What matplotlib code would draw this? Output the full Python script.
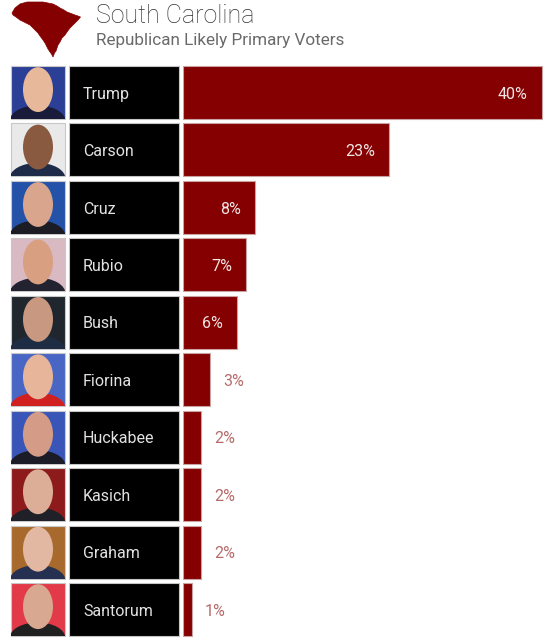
import matplotlib
matplotlib.use("Agg")
import matplotlib.pyplot as plt
from matplotlib.patches import Rectangle, Ellipse, Polygon

plt.rcParams['font.family'] = ['Roboto', 'DejaVu Sans']

# data
candidates = ["Trump", "Carson", "Cruz", "Rubio", "Bush",
              "Fiorina", "Huckabee", "Kasich", "Graham", "Santorum"]
support = [40, 23, 8, 7, 6, 3, 2, 2, 2, 1]
title = "South Carolina"
subtitle = "Republican Likely Primary Voters"

# rough photo placeholder colours (background, skin, suit)
photo_bg = ["#2b3f96", "#e9e9e9", "#2452a8", "#d9b9c2", "#1f262e",
            "#4a66c4", "#3a55b8", "#8e1b1b", "#a86a2c", "#e23a48"]
photo_skin = ["#e8b89a", "#8a5a40", "#d9a58c", "#d8a080", "#c99880",
              "#e6b59a", "#d49c86", "#dcae98", "#e2b8a2", "#d8a890"]
photo_suit = ["#1a1a3a", "#1d2a48", "#1c1c24", "#222230", "#1f2d44",
              "#d02020", "#1c1c28", "#202028", "#263050", "#202020"]

W, H = 547, 640
fig = plt.figure(figsize=(W / 100, H / 100), dpi=100)
fig.patch.set_facecolor("white")

# rows occupy y 64..638 px, 10 rows
top_px, bot_px = 63.75, 638.25
row_h = 0.92
bar_color = "#850000"

# axes for photos / name boxes, x in pixels
ax_rows = fig.add_axes([0, 1 - bot_px / H, 1, (bot_px - top_px) / H])
ax_rows.set_xlim(0, W)
ax_rows.set_ylim(len(candidates) - 0.5, -0.5)
ax_rows.axis("off")

ys = list(range(len(candidates)))
ax_rows.barh(ys, [110.5] * len(ys), left=68.75, height=row_h,
             color="black", edgecolor="#c4c4c4", linewidth=0.8)
for i, name in enumerate(candidates):
    ax_rows.text(83, i + 0.03, name, color="#e2e2e2", fontsize=11.5,
                 va="center", ha="left")
    # photo placeholder
    clip = Rectangle((11, i - row_h / 2), 53.5, row_h, facecolor=photo_bg[i],
                     edgecolor="#c8c8c8", linewidth=0.8)
    ax_rows.add_patch(clip)
    suit = Ellipse((37.5, i + 0.5), 56, 0.55, facecolor=photo_suit[i])
    face = Ellipse((38, i - 0.05), 30, 0.78, facecolor=photo_skin[i])
    for p in (suit, face):
        ax_rows.add_patch(p)
        p.set_clip_path(clip)

# bar axes, x in percent
px_per_pct = 8.97
ax = fig.add_axes([183 / W, 1 - bot_px / H, (W - 183) / W, (bot_px - top_px) / H])
ax.set_xlim(0, (W - 183) / px_per_pct)
ax.set_ylim(len(candidates) - 0.5, -0.5)
ax.axis("off")
ax.barh(ys, support, height=row_h, color=bar_color,
        edgecolor="#c9a3a3", linewidth=0.8)
off = 13 / px_per_pct
for i, v in enumerate(support):
    lab = f"{v}%"
    if v >= 6:
        ax.text(v - off - 0.1, i + 0.03, lab, color="#f0e6e6", fontsize=11.5,
                va="center", ha="right")
    else:
        ax.text(v + off, i + 0.03, lab, color="#b76b6b", fontsize=11.5,
                va="center", ha="left")

# header
ax_head = fig.add_axes([0, 0, 1, 1], zorder=-1)
ax_head.set_xlim(0, W)
ax_head.set_ylim(H, 0)
ax_head.axis("off")
sc_shape = [(12, 13), (15, 8), (20, 4), (27, 2), (36, 2), (43, 2), (48, 3),
            (53, 4), (57, 6), (60, 8), (64, 10), (67, 12), (71, 13.5),
            (75, 15), (78, 16), (80.5, 17), (78, 20), (75, 23), (72, 26),
            (70, 28), (67, 32), (65, 35), (62, 38), (60, 42), (58, 45),
            (57, 48), (56, 51), (54.5, 53), (53, 57), (51.5, 54), (50, 52),
            (48, 49), (47, 47), (45, 43), (43, 40), (40, 36), (38, 33),
            (34, 29), (30, 25), (25, 22.5), (20, 20), (16, 17), (13, 15)]
ax_head.add_patch(Polygon(sc_shape, closed=True, facecolor=bar_color,
                          edgecolor=bar_color, linewidth=0.5))
fig.text(96 / W, 1 - 23 / H, title, fontsize=18, color="#333333",
         fontweight="light", va="baseline", ha="left")
fig.text(96 / W, 1 - 45 / H, subtitle, fontsize=12.3, color="#6a6a6a",
         va="baseline", ha="left")

fig.savefig("out.png", dpi=100, facecolor="white")
